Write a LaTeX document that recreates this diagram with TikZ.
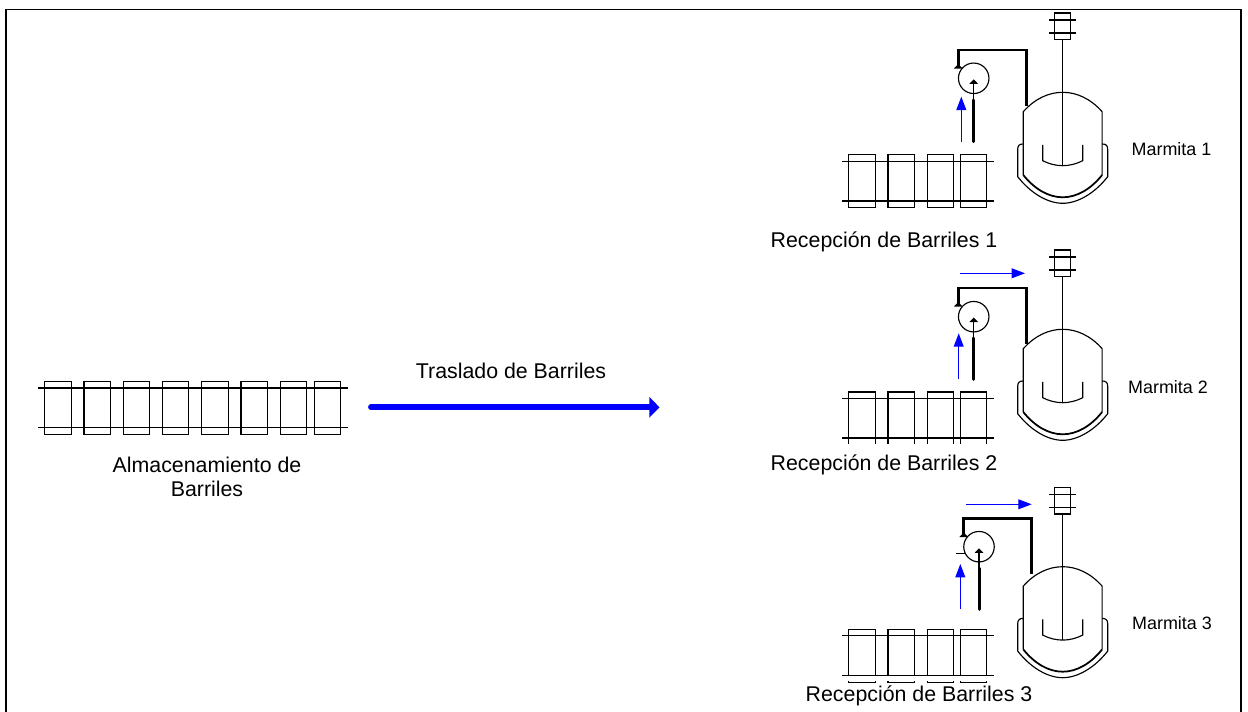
\documentclass[tikz,border=0pt]{standalone}
\usepackage{fontspec}
\setmainfont{Liberation Sans}
\usepackage{tikz}
\usetikzlibrary{arrows.meta,shapes,shapes.geometric}
\usetikzlibrary{positioning}

\tikzset{marmita/.pic={
    \node[draw,rectangle,minimum width=0.32cm,minimum height=0.53cm,inner sep=0pt,line width=0.65pt] (motor) at (0,-66) {};
    \path[draw] (-13.7,-72.3) -- (13.7,-72.3);
    \path[draw] (-13.7,-59.3) -- (13.7,-59.3);
    \path[draw] (motor.south) -- (0,73.4);
    \path[draw] (-39.4,82.7) -- (-39.4,19.4) .. controls (-28,6.5) and (-14,0) .. (0,0) .. controls (14,0) and (28,6.5) .. (39.4,19.4) -- (39.4,82.7);
    \path[draw,line width=1pt] (-39.4,82.7) .. controls (-28,97) and (-14,105) .. (0,105) .. controls (14,105) and (28,97) .. (39.4,82.7);
    \path[draw] (-39.4,51.7) .. controls (-43,51.7) and (-45,53) .. (-45,57) -- (-45,84.4) .. controls (-32,101) and (-15,111) .. (0,111) .. controls (15,111) and (32,101) .. (45,84.4) -- (45,57) .. controls (45,53) and (43,51.7) .. (39.4,51.7);
    \path[draw] (-20,52.7) -- (-20,68.4) .. controls (-14,71.5) and (-7,73.4) .. (0,73.4) .. controls (7,73.4) and (14,71.5) .. (20,68.4) -- (20,52.7);
}}

\begin{document}
\begin{tikzpicture}[x=0.02cm,y=-0.02cm,line width=0.65pt]
            \tikzstyle{barril}=[draw,rectangle,minimum width=0.53cm,minimum height=1.06cm,inner sep=0pt];
            \tikzstyle{bomba}=[draw,circle,minimum size=0.61cm,inner sep=0pt];
            \tikzstyle{rotulo}=[inner sep=0pt,font=\fontsize{12.15pt}{13.6pt}\selectfont,align=center];
            \tikzstyle{rotulochico}=[inner sep=0pt,font=\fontsize{10.2pt}{12pt}\selectfont];
            \tikzstyle{tubo}=[line width=1.7pt,line join=miter];
            \tikzstyle{puntas}=[-{Triangle[length=2.6pt,width=4.8pt]}];
            \tikzstyle{azul}=[blue,-{Triangle[length=7.6pt,width=5.6pt]}];
            \useasboundingbox (0,0) rectangle (1248,712);
            % marco
            \coordinate (m1) at (6,712);
            \coordinate (m2) at (6,9.5);
            \coordinate (m3) at (1241,9.5);
            \coordinate (m4) at (1241,712);
            \path[draw,line width=1.1pt] (m1) -- (m2) -- (m3) -- (m4);
            % almacenamiento
            \node[barril] (a1) at (58,407.6) {};
            \node[barril] (a2) at (97.2,407.6) {};
            \node[barril] (a3) at (136.5,407.6) {};
            \node[barril] (a4) at (175.5,407.6) {};
            \node[barril] (a5) at (215,407.6) {};
            \node[barril] (a6) at (254.2,407.6) {};
            \node[barril] (a7) at (293.5,407.6) {};
            \node[barril] (a8) at (327.5,407.6) {};
            \coordinate (ra1) at (38.3,388);
            \coordinate (ra2) at (347.7,388);
            \coordinate (ra3) at (38.3,427.3);
            \coordinate (ra4) at (347.7,427.3);
            \path[draw] (ra1) -- (ra2);
            \path[draw] (ra3) -- (ra4);
            \node[rotulo] (almacen) at (207,476.5) {Almacenamiento de\\Barriles};
            % traslado
            \coordinate (t1) at (371,407.3);
            \coordinate (t2) at (659.5,407.3);
            \path[draw,blue,line width=3.3pt,line cap=round,-{Triangle[length=5.7pt,width=11.3pt]}] (t1) -- (t2);
            \node[rotulo] (traslado) at (511,370.5) {Traslado de Barriles};
            % primera linea
            \pic (k1) at (1062.7,92.3) {marmita};
            \node[rotulochico] (l1) at (1171.5,149) {Marmita 1};
            \node[barril] (b1) at (862,180.8) {};
            \node[barril] (b2) at (901.3,180.8) {};
            \node[barril] (b3) at (940.5,180.8) {};
            \node[barril] (b4) at (973.5,180.8) {};
            \coordinate (rb1) at (842,161.3);
            \coordinate (rb2) at (993.7,161.3);
            \coordinate (rb3) at (842,201);
            \coordinate (rb4) at (993.7,201);
            \path[draw] (rb1) -- (rb2);
            \path[draw] (rb3) -- (rb4);
            \node[rotulo] (r1) at (884,241.5) {Recepción de Barriles 1};
            \node[bomba] (p1) at (973.7,78.3) {};
            \coordinate (s1) at (1026.7,106);
            \coordinate (s2) at (958.3,50);
            \coordinate (s3) at (958.3,67.5);
            \coordinate (s4) at (958.3,64);
            \coordinate (e1) at (973.7,141.7);
            \coordinate (e2) at (973.7,100);
            \coordinate (e3) at (973.7,79.3);
            \coordinate (f1) at (961.3,141.7);
            \coordinate (f2) at (961.3,96.7);
            \path[draw,tubo] (s1) |- (s2) -- (s3);
            \path[draw,puntas] (s3) -- (s4);
            \path[draw,tubo,line cap=round] (e1) -- (e2);
            \path[draw,puntas] (e2) -- (e3);
            \path[draw,azul] (f1) -- (f2);
            % segunda linea
            \pic (k2) at (1062.7,329.3) {marmita};
            \node[rotulochico] (l2) at (1168,387) {Marmita 2};
            \node[barril] (c1) at (862,418.5) {};
            \node[barril] (c2) at (901.3,418.5) {};
            \node[barril] (c3) at (940.5,418.5) {};
            \node[barril] (c4) at (973.5,418.5) {};
            \coordinate (rc1) at (842,398.7);
            \coordinate (rc2) at (993.7,398.7);
            \coordinate (rc3) at (842,438);
            \coordinate (rc4) at (993.7,438);
            \path[draw] (rc1) -- (rc2);
            \path[draw] (rc3) -- (rc4);
            \node[rotulo,fill=white,minimum width=4.6cm,minimum height=0.86cm] (r2) at (884,465) {Recepción de Barriles 2};
            \node[bomba] (p2) at (973.7,316.7) {};
            \coordinate (g1) at (1026.7,344);
            \coordinate (g2) at (958.3,288);
            \coordinate (g3) at (958.3,305.5);
            \coordinate (g4) at (958.3,302);
            \coordinate (h1) at (973.7,379.3);
            \coordinate (h2) at (973.7,338);
            \coordinate (h3) at (973.7,317.5);
            \coordinate (i1) at (958.7,379.3);
            \coordinate (i2) at (958.7,333.3);
            \coordinate (j1) at (959.7,273.3);
            \coordinate (j2) at (1025,273.3);
            \path[draw,tubo] (g1) |- (g2) -- (g3);
            \path[draw,puntas] (g3) -- (g4);
            \path[draw,tubo,line cap=round] (h1) -- (h2);
            \path[draw,puntas] (h2) -- (h3);
            \path[draw,azul] (i1) -- (i2);
            \path[draw,azul] (j1) -- (j2);
            % tercera linea
            \pic (k3) at (1062.7,566.7) {marmita};
            \node[rotulochico] (l3) at (1172,623) {Marmita 3};
            \node[barril] (d1) at (862,655.8) {};
            \node[barril] (d2) at (901.3,655.8) {};
            \node[barril] (d3) at (940.5,655.8) {};
            \node[barril] (d4) at (973.5,655.8) {};
            \coordinate (q1) at (845,676.2);
            \coordinate (q2) at (990,681);
            \path[fill=white] (q1) rectangle (q2);
            \coordinate (rd1) at (842,635.7);
            \coordinate (rd2) at (993.7,635.7);
            \coordinate (rd3) at (842,675.3);
            \coordinate (rd4) at (993.7,675.3);
            \path[draw] (rd1) -- (rd2);
            \path[draw,line width=0.85pt] (rd3) -- (rd4);
            \node[rotulo] (r3) at (919,695.5) {Recepción de Barriles 3};
            \node[bomba] (p3) at (979,546.7) {};
            \coordinate (n1) at (1031.7,574);
            \coordinate (n2) at (963.7,518.3);
            \coordinate (n3) at (963.7,536);
            \coordinate (n4) at (963.7,532.5);
            \coordinate (o1) at (979,609.3);
            \coordinate (o2) at (979,568.3);
            \coordinate (o3) at (979,548.3);
            \coordinate (u1) at (960.3,609.3);
            \coordinate (u2) at (960.3,564);
            \coordinate (v1) at (966.3,504.3);
            \coordinate (v2) at (1031.7,504.3);
            \coordinate (w1) at (956,553.3);
            \coordinate (w2) at (965,553.3);
            \path[draw,tubo] (n1) |- (n2) -- (n3);
            \path[draw,puntas] (n3) -- (n4);
            \path[draw,tubo,line cap=round] (o1) -- (o2);
            \path[draw,puntas] (o2) -- (o3);
            \path[draw,azul] (u1) -- (u2);
            \path[draw,azul] (v1) -- (v2);
            \path[draw] (w1) -- (w2);
        \end{tikzpicture}
\end{document}
